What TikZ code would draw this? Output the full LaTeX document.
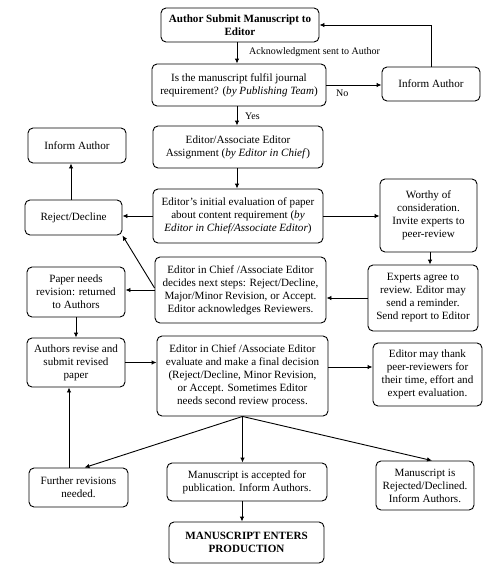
\documentclass[tikz,border=0pt]{standalone}
\usepackage{fontspec}
\setmainfont{Liberation Serif}
\usetikzlibrary{arrows.meta}
\tikzset{
  box/.style={draw=black, line width=0.9pt, rounded corners=5pt, align=center, inner sep=0pt,
    font=\fontsize{11.1}{13}\selectfont, text=black},
  arr/.style={line width=0.9pt, draw=black, -{Latex[length=5pt,width=4.5pt]}},
  lbl/.style={font=\fontsize{10}{12}\selectfont, inner sep=0pt}
}
\begin{document}
\begin{tikzpicture}[x=1pt,y=-1pt]
\useasboundingbox[fill=white] (0,0) rectangle (500,579);
\node[box, minimum width=158, minimum height=34] (b1) at (240,25) {\textbf{Author Submit Manuscript to}\\\textbf{Editor}};
\node[box, minimum width=174, minimum height=42] (b2) at (239,85) {Is the manuscript fulfil journal\\requirement? (\textit{by Publishing Team})};
\node[box, minimum width=98, minimum height=34] (inf1) at (431,84) {Inform Author};
\node[box, minimum width=170, minimum height=42] (b3) at (238,147) {Editor/Associate Editor\\Assignment (\textit{by Editor in Chief})};
\node[box, minimum width=98, minimum height=35] (inf2) at (77,145.5) {Inform Author};
\node[box, minimum width=170, minimum height=54] (b4) at (238,216) {Editor's initial evaluation of paper\\about content requirement (\textit{by}\\\textit{Editor in Chief/Associate Editor})};
\node[box, minimum width=97, minimum height=35] (rej) at (73.5,217.5) {Reject/Decline};
\node[box, minimum width=97, minimum height=73] (worthy) at (428.5,215.5) {Worthy of\\consideration.\\Invite experts to\\peer-review};
\node[box, minimum width=110, minimum height=66] (experts) at (423,298) {Experts agree to\\review. Editor may\\send a reminder.\\Send report to Editor};
\node[box, minimum width=171, minimum height=66] (decides) at (240.5,290) {Editor in Chief /Associate Editor\\decides next steps: Reject/Decline,\\Major/Minor Revision, or Accept.\\Editor acknowledges Reviewers.};
\node[box, minimum width=98, minimum height=50] (paper) at (76,292) {Paper needs\\revision: returned\\to Authors};
\node[box, minimum width=98, minimum height=49] (revise) at (76,362.5) {Authors revise and\\submit revised\\paper};
\node[box, minimum width=171, minimum height=80] (final) at (242.5,376) {Editor in Chief /Associate Editor\\evaluate and make a final decision\\(Reject/Decline, Minor Revision,\\or Accept. Sometimes Editor\\needs second review process.};
\node[box, minimum width=109, minimum height=63] (thank) at (427.5,374.5) {Editor may thank\\peer-reviewers for\\their time, effort and\\expert evaluation.};
\node[box, minimum width=99, minimum height=39] (further) at (78.5,487.5) {Further revisions\\needed.};
\node[box, minimum width=160, minimum height=38] (accepted) at (247,482) {Manuscript is accepted for\\publication. Inform Authors.};
\node[box, minimum width=98, minimum height=49] (rejected) at (425,485.5) {Manuscript is\\Rejected/Declined.\\Inform Authors.};
\node[box, minimum width=155, minimum height=41] (production) at (246.5,542.5) {\textbf{MANUSCRIPT ENTERS}\\\textbf{PRODUCTION}};
% labels
\node[lbl, anchor=west] (ack) at (249,52) {Acknowledgment sent to Author};
\node[lbl, anchor=west] (no) at (336,93) {No};
\node[lbl, anchor=west] (yes) at (245,116) {Yes};
% connectors
\draw[arr] ([xshift=-3pt]b1.south) -- ([xshift=-3pt]b1.south |- b2.north);
\draw[arr] (b2.east) -- (b2.east -| inf1.west);
\draw[arr] (inf1.north) |- (b1.east);
\draw[arr] ([xshift=-2pt]b2.south) -- ([xshift=-2pt]b2.south |- b3.north);
\draw[arr] ([xshift=-1pt]b3.south) -- ([xshift=-1pt]b3.south |- b4.north);
\draw[arr] (b4.west) -- (b4.west -| rej.east);
\draw[arr] ([xshift=-2.5pt]rej.north) -- ([xshift=-2.5pt]rej.north |- inf2.south);
\draw[arr] (b4.east) -- (b4.east -| worthy.west);
\draw[arr] ([xshift=1.5pt]worthy.south) -- ([xshift=1.5pt]worthy.south |- experts.north);
\draw[arr] (experts.west) -- (experts.west -| decides.east);
\draw[arr] (decides.west) -- (decides.west -| paper.east);
\draw[arr] ([yshift=2pt]decides.west) -- (rej.south east);
\draw[arr] (paper.south) -- (paper.south |- revise.north);
\draw[arr] (revise.east) -- (revise.east -| final.west);
\draw[arr] ([yshift=9pt]final.east) -- ([yshift=9pt]final.east -| thank.west);
\draw[arr] (final.south) -- ([xshift=6pt]further.north);
\draw[arr] (final.south) -- (final.south |- accepted.north);
\draw[arr] (final.south) -- ([xshift=7pt]rejected.north);
\draw[arr] ([xshift=-9.5pt]further.north) -- ([xshift=-9.5pt]further.north |- revise.south);
\draw[arr] ([xshift=-5pt]accepted.south) -- ([xshift=-5pt]accepted.south |- production.north);
\end{tikzpicture}
\end{document}
